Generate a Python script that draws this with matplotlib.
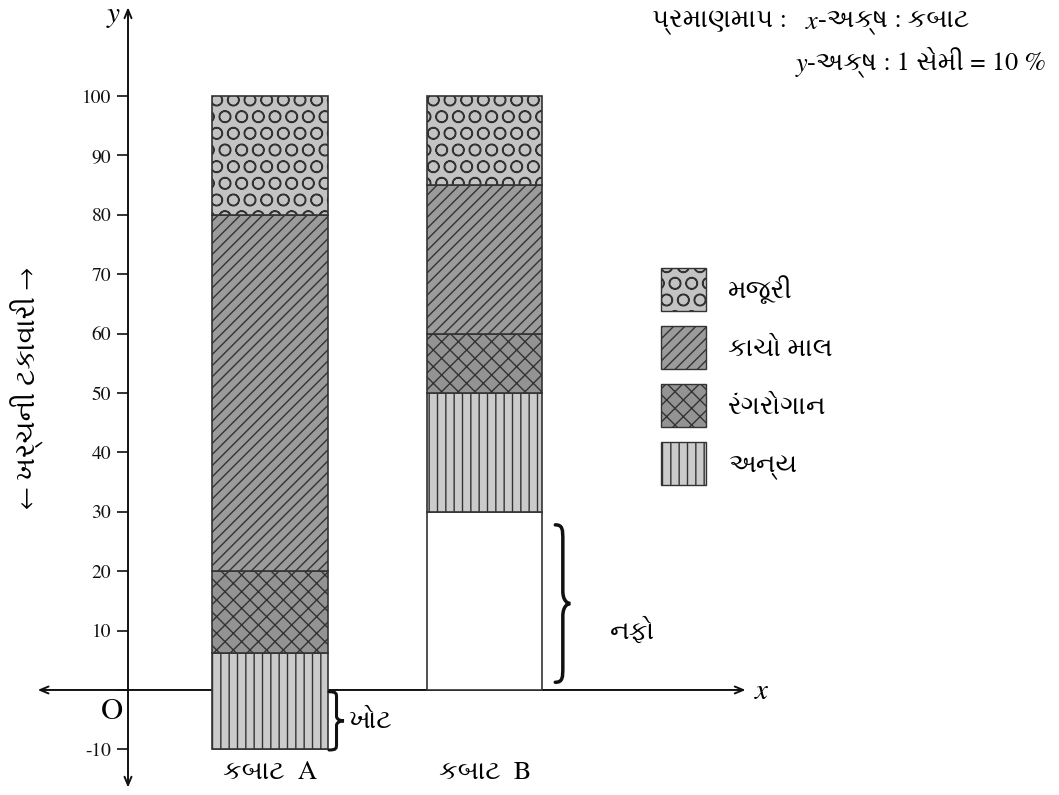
import numpy as np
import matplotlib
matplotlib.use('Agg')
import matplotlib.pyplot as plt
from matplotlib import font_manager as fm
from matplotlib.ft2font import FT2Font
from matplotlib.patches import Patch, PathPatch
from matplotlib.path import Path

# data: stacked cost shares (% of selling price), bottom to top
categories = ['કબાટ A', 'કબાટ B']
bar_start = [-10, 0]
profit = [0, 30]
others = [16.2, 20]
paint = [13.8, 10]
raw_material = [60, 25]
labour = [20, 15]

seg_names = ['અન્ય', 'રંગરોગાન', 'કાચો માલ', 'મજૂરી']
seg_values = [others, paint, raw_material, labour]
seg_colors = ['#cbcbcb', '#939393', '#9b9b9b', '#c3c3c3']
seg_hatches = ['||', 'xx', '///', 'O']
yticks = [-10, 0, 10, 20, 30, 40, 50, 60, 70, 80, 90, 100]
ytick_labels = ['-10', '', '10', '20', '30', '40', '50', '60', '70', '80', '90', '100']


def find_fonts(ch):
    """Names of installed fonts that have glyph ch."""
    out = []
    for f in fm.fontManager.ttflist:
        try:
            if ord(ch) in FT2Font(f.fname).get_charmap():
                out.append(f.name)
        except Exception:
            pass
    return out


found = find_fonts('ક')
guj = None
for pref in ['FreeSerif', 'FreeSans']:
    if pref in found:
        guj = pref
        break
if guj is None and found:
    guj = ([n for n in found if 'Unifont' not in n] or found)[0]
FAM = ([guj] if guj else []) + ['Liberation Serif', 'DejaVu Sans']
plt.rcParams['font.family'] = FAM
plt.rcParams['hatch.linewidth'] = 1.0


def brace(ax, x, y0, y1, w, lw=2.5):
    """Curly brace from y0 to y1, tip pointing right."""
    h = y1 - y0
    ym = (y0 + y1) / 2
    xm = x + 0.5 * w
    verts = [(x, y1),
             (xm, y1), (xm, y1 - 0.03 * h), (xm, y1 - 0.1 * h),
             (xm, ym + 0.08 * h),
             (xm, ym + 0.02 * h), (x + 0.8 * w, ym), (x + w, ym),
             (x + 0.8 * w, ym), (xm, ym - 0.02 * h), (xm, ym - 0.08 * h),
             (xm, y0 + 0.1 * h),
             (xm, y0 + 0.03 * h), (xm, y0), (x, y0)]
    codes = [Path.MOVETO] + [Path.CURVE4] * 3 + [Path.LINETO] + [Path.CURVE4] * 6 \
        + [Path.LINETO] + [Path.CURVE4] * 3
    ax.add_patch(PathPatch(Path(verts, codes), fill=False, lw=lw, color='#111',
                           capstyle='round', zorder=4))


fig = plt.figure(figsize=(10.59, 7.95), dpi=100)
ax = fig.add_axes([0, 0, 1, 1])
ax.set_xlim(-1.2587, 3.678)
ax.set_ylim(-17.68, 116.16)

x = np.arange(len(categories))
width = 0.54
bottom = np.array(bar_start, dtype=float)
# white profit block (only cabinet B)
ax.bar(x, profit, width, bottom=bottom, color='white', edgecolor='#333', lw=1.2, zorder=3)
bottom += np.array(profit)
for name, vals, col, h in zip(seg_names, seg_values, seg_colors, seg_hatches):
    ax.bar(x, vals, width, bottom=bottom, color=col, edgecolor='#333', hatch=h,
           lw=1.2, zorder=3)
    bottom += np.array(vals)

# axes with arrows
yax = -0.662
ax.annotate('', xy=(2.23, 0), xytext=(-1.096, 0),
            arrowprops=dict(arrowstyle='<->,head_length=0.6,head_width=0.25', lw=1.4, color='#111'),
            zorder=1)
ax.annotate('', xy=(yax, 115.4), xytext=(yax, -16.9),
            arrowprops=dict(arrowstyle='<->,head_length=0.6,head_width=0.25', lw=1.4, color='#111'),
            zorder=1)
for s in ['top', 'right', 'bottom']:
    ax.spines[s].set_visible(False)
ax.spines['left'].set_position(('data', yax))
ax.spines['left'].set_visible(False)
ax.set_xticks([])
ax.set_yticks(yticks)
ax.set_yticklabels(ytick_labels, fontsize=14)
ax.tick_params(axis='y', direction='out', length=8, width=1.2, pad=4, colors='#111')

ax.text(yax - 0.04, 113.6, 'y', fontsize=21, style='italic', ha='right', va='center')
ax.text(2.262, -0.3, 'x', fontsize=21, style='italic', ha='left', va='center')
ax.text(-0.737, -3.7, 'O', fontsize=22, ha='center', va='center')

# y-axis title
ax.text(-1.13, 50.8, '← ખર્ચની ટકાવારી →', rotation=90, fontsize=20,
        ha='center', va='center')

# category labels
for i, c in enumerate(categories):
    ax.text(x[i], -14.0, c.replace(' ', '  '), fontsize=19, ha='center', va='center')

# profit / loss braces
brace(ax, 1.33, 1.3, 27.8, 0.07)
ax.text(1.69, 9.8, 'નફો', fontsize=19, ha='center', va='center')
brace(ax, 0.275, -10.1, -0.3, 0.07, lw=2.2)
ax.text(0.365, -5.4, 'ખોટ', fontsize=19, ha='left', va='center')

# scale note, top right
t = ax.text(1.781, 112.3, 'પ્રમાણમાપ :   ', fontsize=19, ha='left', va='center')
t = ax.annotate('x', xy=(1, 0), xycoords=t, fontsize=19, style='italic', va='bottom')
ax.annotate('-અક્ષ : કબાટ', xy=(1, 0), xycoords=t, fontsize=19, va='bottom')
t = ax.text(2.448, 105.2, 'y', fontsize=19, style='italic', ha='left', va='center')
ax.annotate('-અક્ષ : 1 સેમી = 10 %', xy=(1, 0), xycoords=t, fontsize=19, va='bottom')

# legend, top to bottom: labour, raw material, paint, others
handles = [Patch(facecolor=c, edgecolor='#333', hatch=h, label=n)
           for n, c, h in zip(seg_names, seg_colors, seg_hatches)][::-1]
ax.legend(handles=handles, loc='upper left', bbox_to_anchor=(661 / 1059, 1 - 268 / 795),
          bbox_transform=fig.transFigure, frameon=False, borderpad=0, borderaxespad=0,
          fontsize=19, handlelength=1.7, handleheight=2.13, handletextpad=0.85,
          labelspacing=0.57)

fig.savefig('out.png', dpi=100)
